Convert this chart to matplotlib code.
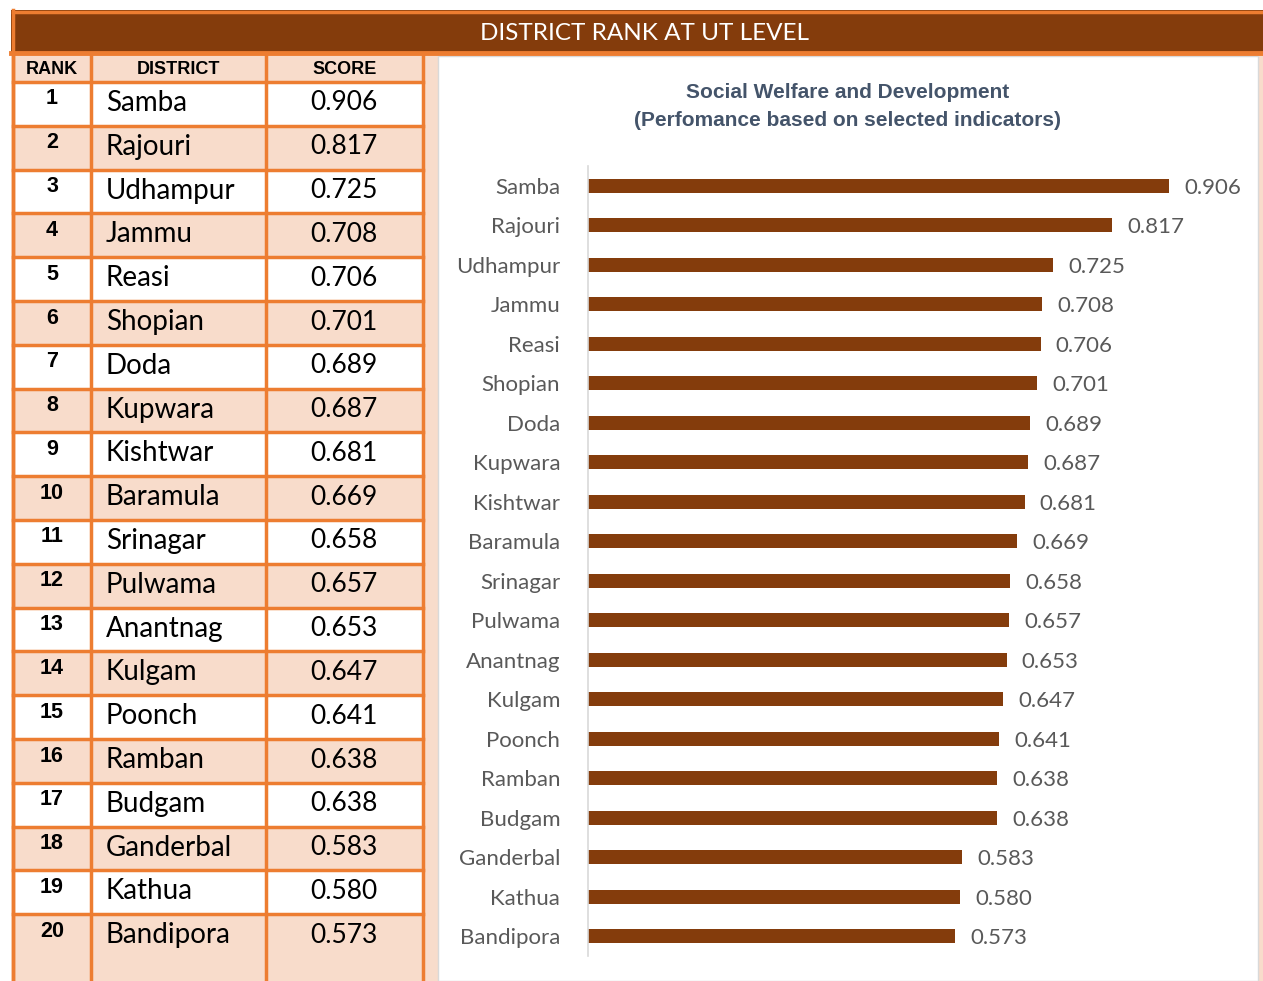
import matplotlib.pyplot as plt
from matplotlib.patches import Rectangle

plt.rcParams['font.family'] = ['Lato', 'DejaVu Sans']
BOLD_FONT = ['Liberation Sans', 'DejaVu Sans']

districts = ["Samba", "Rajouri", "Udhampur", "Jammu", "Reasi", "Shopian", "Doda",
             "Kupwara", "Kishtwar", "Baramula", "Srinagar", "Pulwama", "Anantnag",
             "Kulgam", "Poonch", "Ramban", "Budgam", "Ganderbal", "Kathua", "Bandipora"]
scores = [0.906, 0.817, 0.725, 0.708, 0.706, 0.701, 0.689, 0.687, 0.681, 0.669,
          0.658, 0.657, 0.653, 0.647, 0.641, 0.638, 0.638, 0.583, 0.580, 0.573]
ranks = list(range(1, len(districts) + 1))
headers = ["RANK", "DISTRICT", "SCORE"]

BROWN = "#843C0C"
ORANGE = "#ED7D31"
PEACH = "#F8DCCB"
GREY = "#595959"
NAVY = "#44546A"

W, H = 1263, 981
fig = plt.figure(figsize=(W / 100, H / 100), dpi=100)
fig.patch.set_facecolor("white")

# background layer in pixel coordinates
bg = fig.add_axes([0, 0, 1, 1])
bg.set_xlim(0, W)
bg.set_ylim(H, 0)
bg.axis("off")

# title band
bg.add_patch(Rectangle((11, 10), W, 44, facecolor=BROWN, edgecolor="none"))
bg.plot([12.5, W], [11.5, 11.5], color=ORANGE, lw=2.5)
bg.plot([12.5, 12.5], [10, H], color=ORANGE, lw=2.5)
bg.plot([11, W], [52.5, 52.5], color=ORANGE, lw=3.5)
bg.text(644, 33, "DISTRICT RANK AT UT LEVEL", color="white", fontsize=17.5,
        ha="center", va="center")

# peach strip and chart panel
bg.add_patch(Rectangle((424, 54), W - 424, H - 54, facecolor=PEACH, edgecolor="none"))
bg.add_patch(Rectangle((438, 56), 820, H - 56, facecolor="white",
                       edgecolor="#D9D9D9", lw=1))

# table
col_x = [13, 91, 266, 423]
row_h = 43.8
top0 = 82
bg.add_patch(Rectangle((13, 54), 410, top0 - 54, facecolor=PEACH, edgecolor="none"))
for i in range(len(districts)):
    top = top0 + i * row_h
    h = row_h if i < len(districts) - 1 else H - top
    bg.add_patch(Rectangle((13, top), 410, h,
                           facecolor="white" if i % 2 == 0 else PEACH, edgecolor="none"))
    bg.text(52, top + 17, str(ranks[i]), fontsize=15.5, fontweight="bold",
            family=BOLD_FONT, ha="center", va="center", color="black")
    bg.text(106, top + 21, districts[i], fontsize=20, ha="left", va="center",
            color="black")
    bg.text(344, top + 21, f"{scores[i]:.3f}", fontsize=19, ha="center",
            va="center", color="black")
    bg.plot([13, 423], [top, top], color=ORANGE, lw=2.5)

for x in col_x:
    bg.plot([x, x], [54, H], color=ORANGE, lw=2.5)

for x0, x1, label in zip(col_x[:-1], col_x[1:], headers):
    bg.text((x0 + x1) / 2, 69, label, fontsize=13, fontweight="bold",
            family=BOLD_FONT, ha="center", va="center", color="black")

# chart title
bg.text(848, 92, "Social Welfare and Development", fontsize=15, fontweight="bold",
        family=BOLD_FONT, color=NAVY, ha="center", va="center")
bg.text(848, 121, "(Perfomance based on selected indicators)", fontsize=15,
        fontweight="bold", family=BOLD_FONT, color=NAVY, ha="center", va="center")

# bar chart
ax_left, ax_right = 588, 1250
ax_top, ax_bot = 166, 956
ax = fig.add_axes([ax_left / W, 1 - ax_bot / H, (ax_right - ax_left) / W,
                   (ax_bot - ax_top) / H])
ypos = list(range(len(districts)))
ax.barh(ypos, scores, height=0.36, color=BROWN)
ax.set_xlim(0, (ax_right - ax_left) / 641)
ax.set_ylim(len(districts) - 0.5, -0.5)
ax.set_yticks(ypos)
ax.set_yticklabels(districts, fontsize=16, color=GREY)
ax.tick_params(axis="y", length=0, pad=20)
ax.set_xticks([])
for s in ["top", "right", "bottom"]:
    ax.spines[s].set_visible(False)
ax.spines["left"].set_color("#D9D9D9")
ax.spines["left"].set_linewidth(1.2)
ax.patch.set_alpha(0)
for y, v in zip(ypos, scores):
    ax.annotate(f"{v:.3f}", (v, y), xytext=(11, -1.5), textcoords="offset points",
                va="center", ha="left", fontsize=16, color=GREY)

fig.savefig("out.png", dpi=100)
